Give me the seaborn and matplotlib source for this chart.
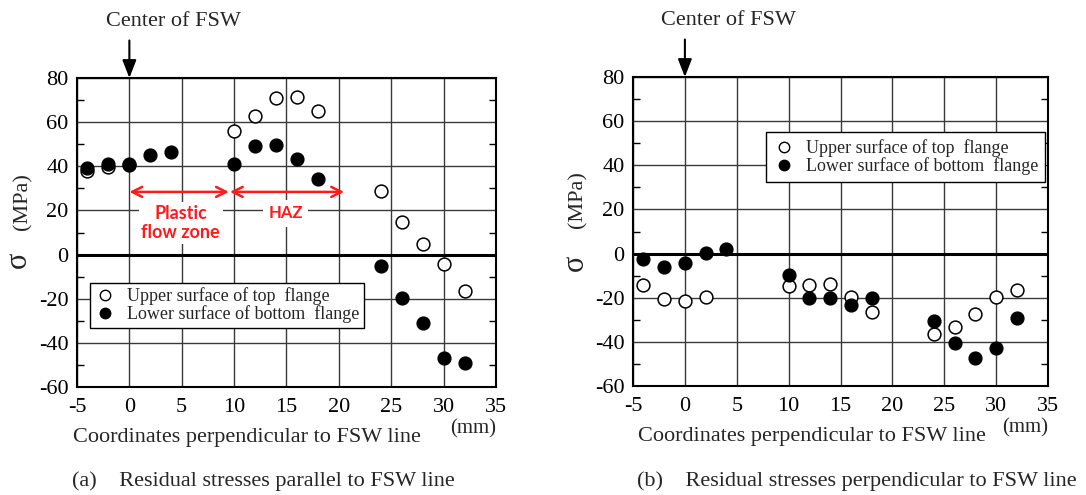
import matplotlib
matplotlib.use("Agg")
import matplotlib.pyplot as plt
import seaborn as sns
import pandas as pd
from matplotlib.lines import Line2D

# ---------------- data ----------------
xa_upper = [-4, -2, 0, 10, 12, 14, 16, 18, 24, 26, 28, 30, 32]
ya_upper = [38, 39.5, 40.5, 56.2, 62.6, 70.8, 71.4, 65, 29, 14.9, 4.6, -4.4, -16.4]
xa_lower = [-4, -2, 0, 2, 4, 10, 12, 14, 16, 18, 24, 26, 28, 30, 32]
ya_lower = [39.1, 41, 41.1, 45, 46.7, 41, 49.1, 49.6, 43.4, 34.3, -5.2, -19.7, -31, -46.7, -49.2]

xb_upper = [-4, -2, 0, 2, 10, 12, 14, 16, 18, 24, 26, 28, 30, 32]
yb_upper = [-14.1, -20.7, -21.6, -19.7, -14.6, -14.1, -13.8, -19.7, -26.5, -36.3, -33.1, -27.4, -19.8, -16.4]
xb_lower = [-4, -2, 0, 2, 4, 10, 12, 14, 16, 18, 24, 26, 28, 30, 32]
yb_lower = [-2.6, -6.1, -4.4, 0.4, 1.9, -9.9, -20.1, -20.1, -23.5, -20.1, -30.5, -40.5, -47.2, -43, -29.2]

series_labels = ["Upper surface of top  flange", "Lower surface of bottom  flange"]
x_ticks = [-5, 0, 5, 10, 15, 20, 25, 30, 35]
y_ticks = [-60, -40, -20, 0, 20, 40, 60, 80]
captions = ["(a)    Residual stresses parallel to FSW line",
            "(b)    Residual stresses perpendicular to FSW line"]
xlabel = "Coordinates perpendicular to FSW line"
center_text = "Center of FSW"

# ---------------- style ----------------
sns.set_theme(style="white")
plt.rcParams["font.family"] = ["Liberation Serif", "DejaVu Serif"]
plt.rcParams["axes.unicode_minus"] = False

W, H = 1086, 495
fig = plt.figure(figsize=(W / 100, H / 100), dpi=100)
axA = fig.add_axes([0.0709, 0.2182, 0.3858, 0.6242])
axB = fig.add_axes([0.5829, 0.2202, 0.3821, 0.6242])

MS = 85  # marker area (pt^2)


def px(x, y):
    return x / W, 1 - y / H


def draw(ax, xu, yu, xl, yl, xlab_x):
    du = pd.DataFrame({"x": xu, "y": yu})
    dl = pd.DataFrame({"x": xl, "y": yl})
    ax.set_xlim(-5, 35)
    ax.set_ylim(-60, 80)
    ax.set_xticks(x_ticks)
    ax.set_yticks(y_ticks)
    ax.set_yticks(list(range(-50, 80, 20)), minor=True)
    ax.grid(True, which="major", color="#3a3a3a", linewidth=1.0)
    ax.set_axisbelow(True)
    ax.axhline(0, color="black", linewidth=2.2, zorder=1.5)
    sns.scatterplot(data=du, x="x", y="y", ax=ax, marker="o", s=MS,
                    facecolor="white", edgecolor="black", linewidth=1.1, zorder=3)
    sns.scatterplot(data=dl, x="x", y="y", ax=ax, marker="o", s=MS,
                    color="black", edgecolor="black", linewidth=1.0, zorder=4)
    for sp in ax.spines.values():
        sp.set_color("black")
        sp.set_linewidth(1.5)
    ax.tick_params(axis="both", which="major", direction="in", length=0,
                   labelsize=16, pad=6, colors="black")
    ax.tick_params(axis="y", which="minor", direction="in", length=5,
                   width=1.0, left=True, right=True, color="black")
    ax.tick_params(axis="x", labelsize=16, pad=8)
    ax.set_xlabel("")
    ax.set_ylabel("")
    ax.text(xlab_x, -0.165, xlabel, transform=ax.transAxes, fontsize=16,
            ha="center", va="center")
    ax.text(0.945, -0.135, "(mm)", transform=ax.transAxes, fontsize=15,
            ha="center", va="center")
    ax.annotate("", xy=(0, 80), xytext=(0, 97), textcoords="data",
                arrowprops=dict(arrowstyle="-|>,head_length=0.9,head_width=0.35",
                                color="black", lw=1.5, shrinkA=0, shrinkB=0),
                annotation_clip=False)
    ax.text(4.2, 105.5, center_text, fontsize=16, ha="center", va="center",
            clip_on=False)
    handles = [Line2D([], [], marker="o", linestyle="none", markersize=7.5,
                      markerfacecolor="white", markeredgecolor="black", markeredgewidth=1.0),
               Line2D([], [], marker="o", linestyle="none", markersize=7.5,
                      markerfacecolor="black", markeredgecolor="black")]
    return handles


hA = draw(axA, xa_upper, ya_upper, xa_lower, ya_lower, 0.405)
hB = draw(axB, xb_upper, yb_upper, xb_lower, yb_lower, 0.43)

# y labels: sigma and (MPa)
for sx, sy, mx, my in [(18, 260, 23, 202), (575, 263, 578, 200)]:
    fig.text(*px(sx, sy), "\u03c3", fontsize=22, rotation=90, ha="center", va="center")
    fig.text(*px(mx, my), "(MPa)", fontsize=16, rotation=90, ha="center", va="center")

legA = axA.legend(hA, series_labels, loc="upper left", bbox_to_anchor=(0.031, 0.337),
                  borderaxespad=0, fontsize=13, frameon=True, fancybox=False,
                  handletextpad=0.6, labelspacing=0.0, borderpad=0.25,
                  handlelength=1.2)
legB = axB.legend(hB, series_labels, loc="upper left", bbox_to_anchor=(0.32, 0.822),
                  borderaxespad=0, fontsize=13, frameon=True, fancybox=False,
                  handletextpad=0.6, labelspacing=0.0, borderpad=0.4,
                  handlelength=1.2)
for lg in (legA, legB):
    fr = lg.get_frame()
    fr.set_edgecolor("black")
    fr.set_linewidth(1.0)
    fr.set_alpha(1)
    lg.set_zorder(5)

# red zone annotations (panel a)
red = "#ff1a1a"
for x0, x1 in [(0, 9.5), (9.6, 20.5)]:
    axA.annotate("", xy=(x1, 28.4), xytext=(x0, 28.4),
                 arrowprops=dict(arrowstyle="<->,head_length=0.6,head_width=0.3",
                                 color=red, lw=1.8, shrinkA=0, shrinkB=0))
axA.text(4.9, 14.3, "Plastic\nflow zone", color=red, fontsize=13,
         fontweight="bold", family=["Lato", "DejaVu Sans"], ha="center",
         va="center", linespacing=1.2,
         bbox=dict(facecolor="white", edgecolor="none", pad=2))
axA.text(14.9, 18.7, "HAZ", color=red, fontsize=12, fontweight="bold",
         family=["Lato", "DejaVu Sans"], ha="center", va="center",
         bbox=dict(facecolor="white", edgecolor="none", pad=4))

# captions
fig.text(*px(72, 481), captions[0], fontsize=16, ha="left", va="center")
fig.text(*px(637, 481), captions[1], fontsize=16, ha="left", va="center")

fig.savefig("out.png", dpi=100)
